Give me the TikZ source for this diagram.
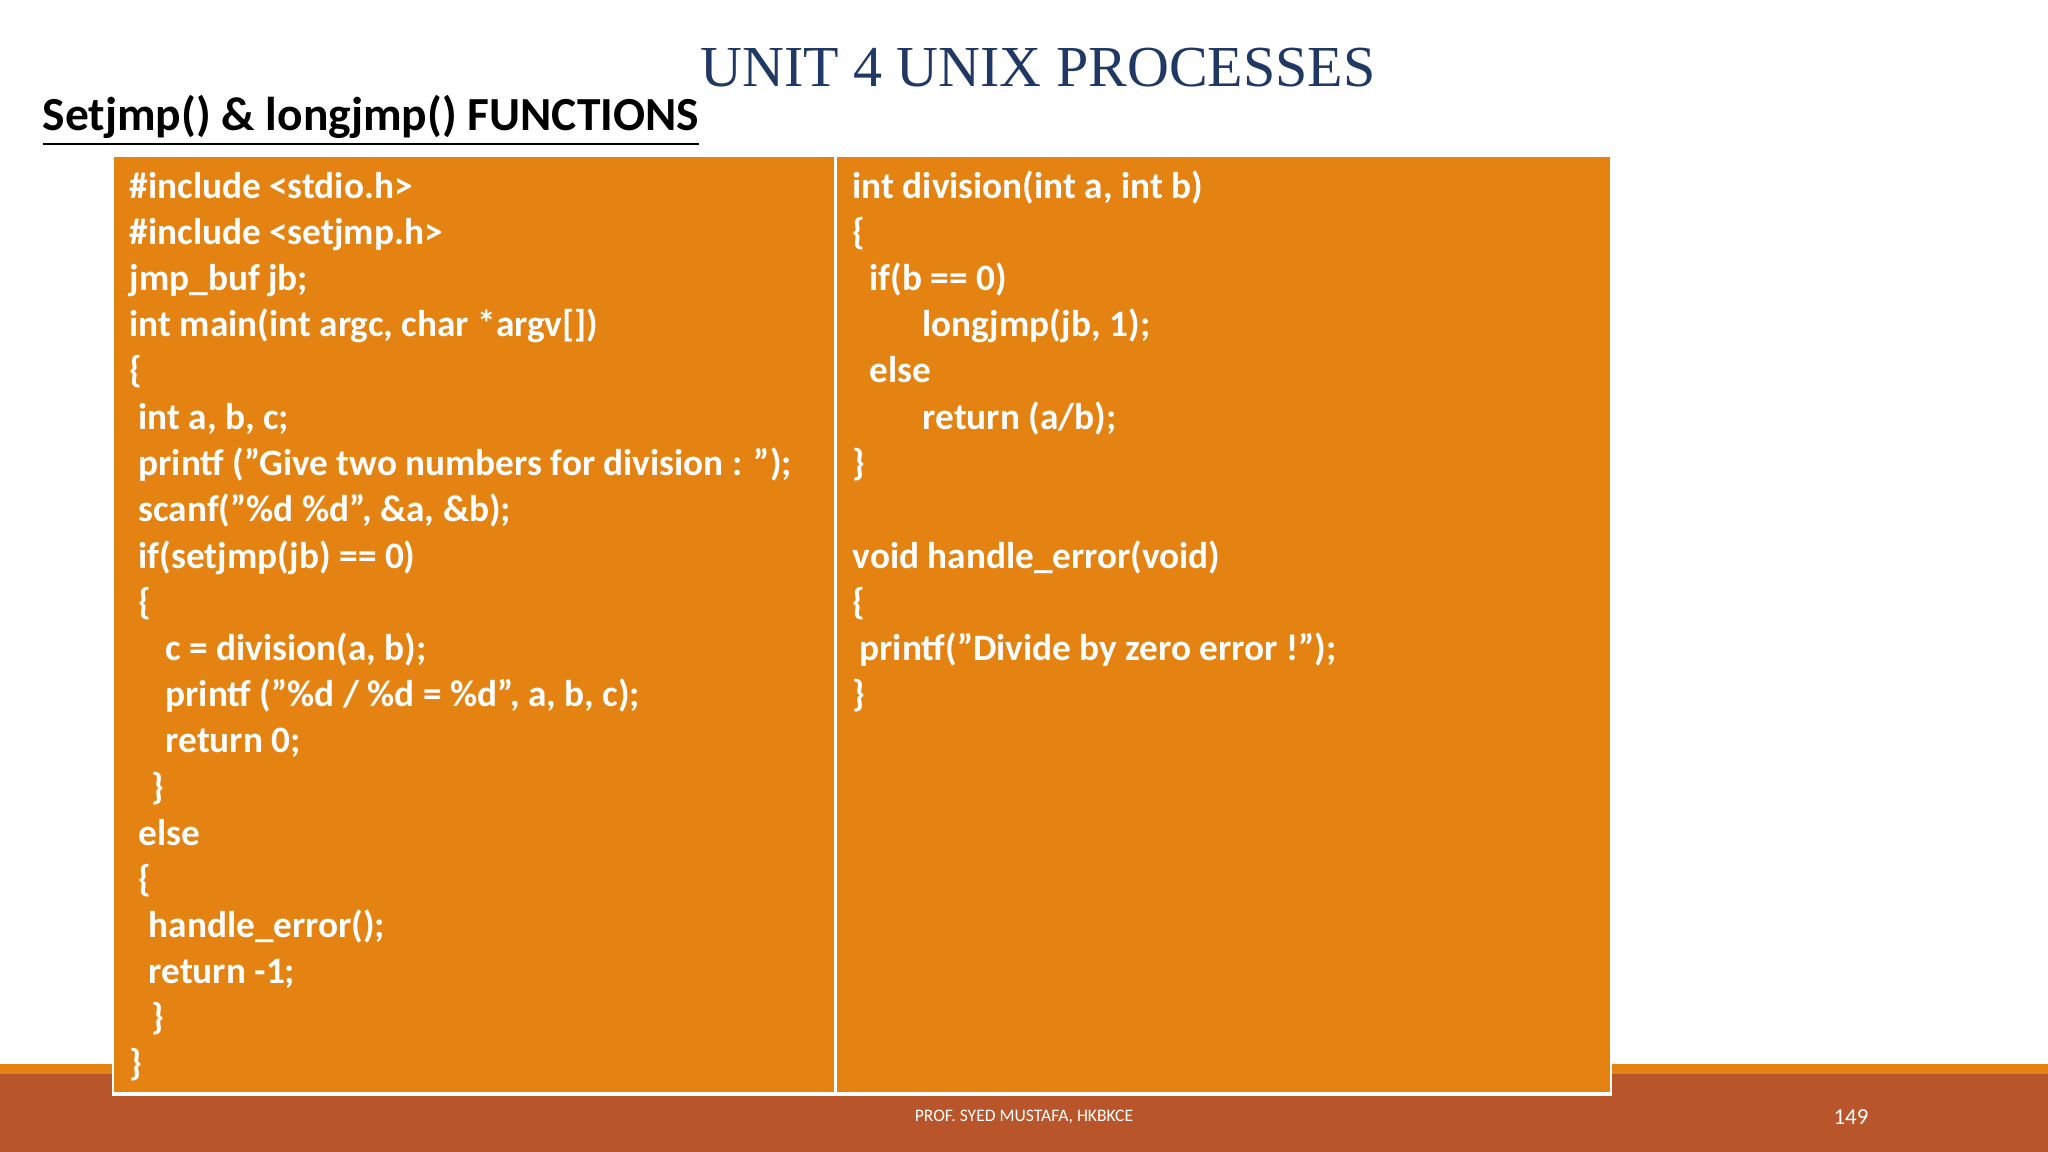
\documentclass[tikz,border=0pt]{standalone}
\usepackage{fontspec}
\setmainfont{Carlito}
\newfontfamily\titlefont{Liberation Serif}
\begin{document}
\begin{tikzpicture}[x=0.01cm,y=-0.01cm,
  code/.style={anchor=base west,inner sep=0pt,text=white,font=\fontsize{10.6pt}{12pt}\selectfont\bfseries}]
\definecolor{orng}{HTML}{E48312}
\definecolor{rust}{HTML}{B9552B}
\definecolor{tblue}{HTML}{1F3864}
\useasboundingbox (0,0) rectangle (2048,1152);
\fill[white] (0,0) rectangle (2048,1152);
\fill[orng] (0,1064) rectangle (2048,1074);
\fill[rust] (0,1074) rectangle (2048,1152);
\fill[white] (112,155) rectangle (1612,1096);
\fill[orng] (114,157) rectangle (834,1092);
\fill[orng] (837,157) rectangle (1610,1092);
\node[text=tblue,font=\titlefont\fontsize{16.5pt}{18pt}\selectfont] (title) at (1038,68) {UNIT 4 UNIX PROCESSES};
\node[anchor=base west,inner sep=0pt,font=\fontsize{13.5pt}{15pt}\selectfont\bfseries] (sub) at (42,131) {\underline{Setjmp() \& longjmp() FUNCTIONS}};
\node[text=white,font=\fontsize{5pt}{6pt}\selectfont] (foot) at (1024,1117) {PROF. SYED MUSTAFA, HKBKCE};
\node[text=white,font=\fontsize{6.5pt}{7pt}\selectfont] (pg) at (1851,1117) {149};
% left column
\node[code] (a1) at (129,199) {\#include <stdio.h>};
\node[code] (a2) at (129,245) {\#include <setjmp.h>};
\node[code] (a3) at (129,291) {jmp\_buf jb;};
\node[code] (a4) at (129,337) {int main(int argc, char *argv[])};
\node[code] (a5) at (129,383) {\{};
\node[code] (a6) at (138,430) {int a, b, c;};
\node[code] (a7) at (138,476) {printf ("Give two numbers for division : ");};
\node[code] (a8) at (138,522) {scanf("\%d \%d", \&a, \&b);};
\node[code] (a9) at (138,568) {if(setjmp(jb) == 0)};
\node[code] (a10) at (138,614) {\{};
\node[code] (a11) at (165,660) {c = division(a, b);};
\node[code] (a12) at (165,706) {printf ("\%d / \%d = \%d", a, b, c);};
\node[code] (a13) at (165,752) {return 0;};
\node[code] (a14) at (151,799) {\}};
\node[code] (a15) at (138,845) {else};
\node[code] (a16) at (138,891) {\{};
\node[code] (a17) at (148,937) {handle\_error();};
\node[code] (a18) at (148,983) {return -1;};
\node[code] (a19) at (151,1029) {\}};
\node[code] (a20) at (129,1075) {\}};
% right column
\node[code] (b1) at (852,199) {int division(int a, int b)};
\node[code] (b2) at (852,245) {\{};
\node[code] (b3) at (869,291) {if(b == 0)};
\node[code] (b4) at (922,337) {longjmp(jb, 1);};
\node[code] (b5) at (869,383) {else};
\node[code] (b6) at (922,430) {return (a/b);};
\node[code] (b7) at (852,476) {\}};
\node[code] (b8) at (852,568) {void handle\_error(void)};
\node[code] (b9) at (852,614) {\{};
\node[code] (b10) at (859,660) {printf("Divide by zero error !");};
\node[code] (b11) at (852,706) {\}};
\end{tikzpicture}
\end{document}
